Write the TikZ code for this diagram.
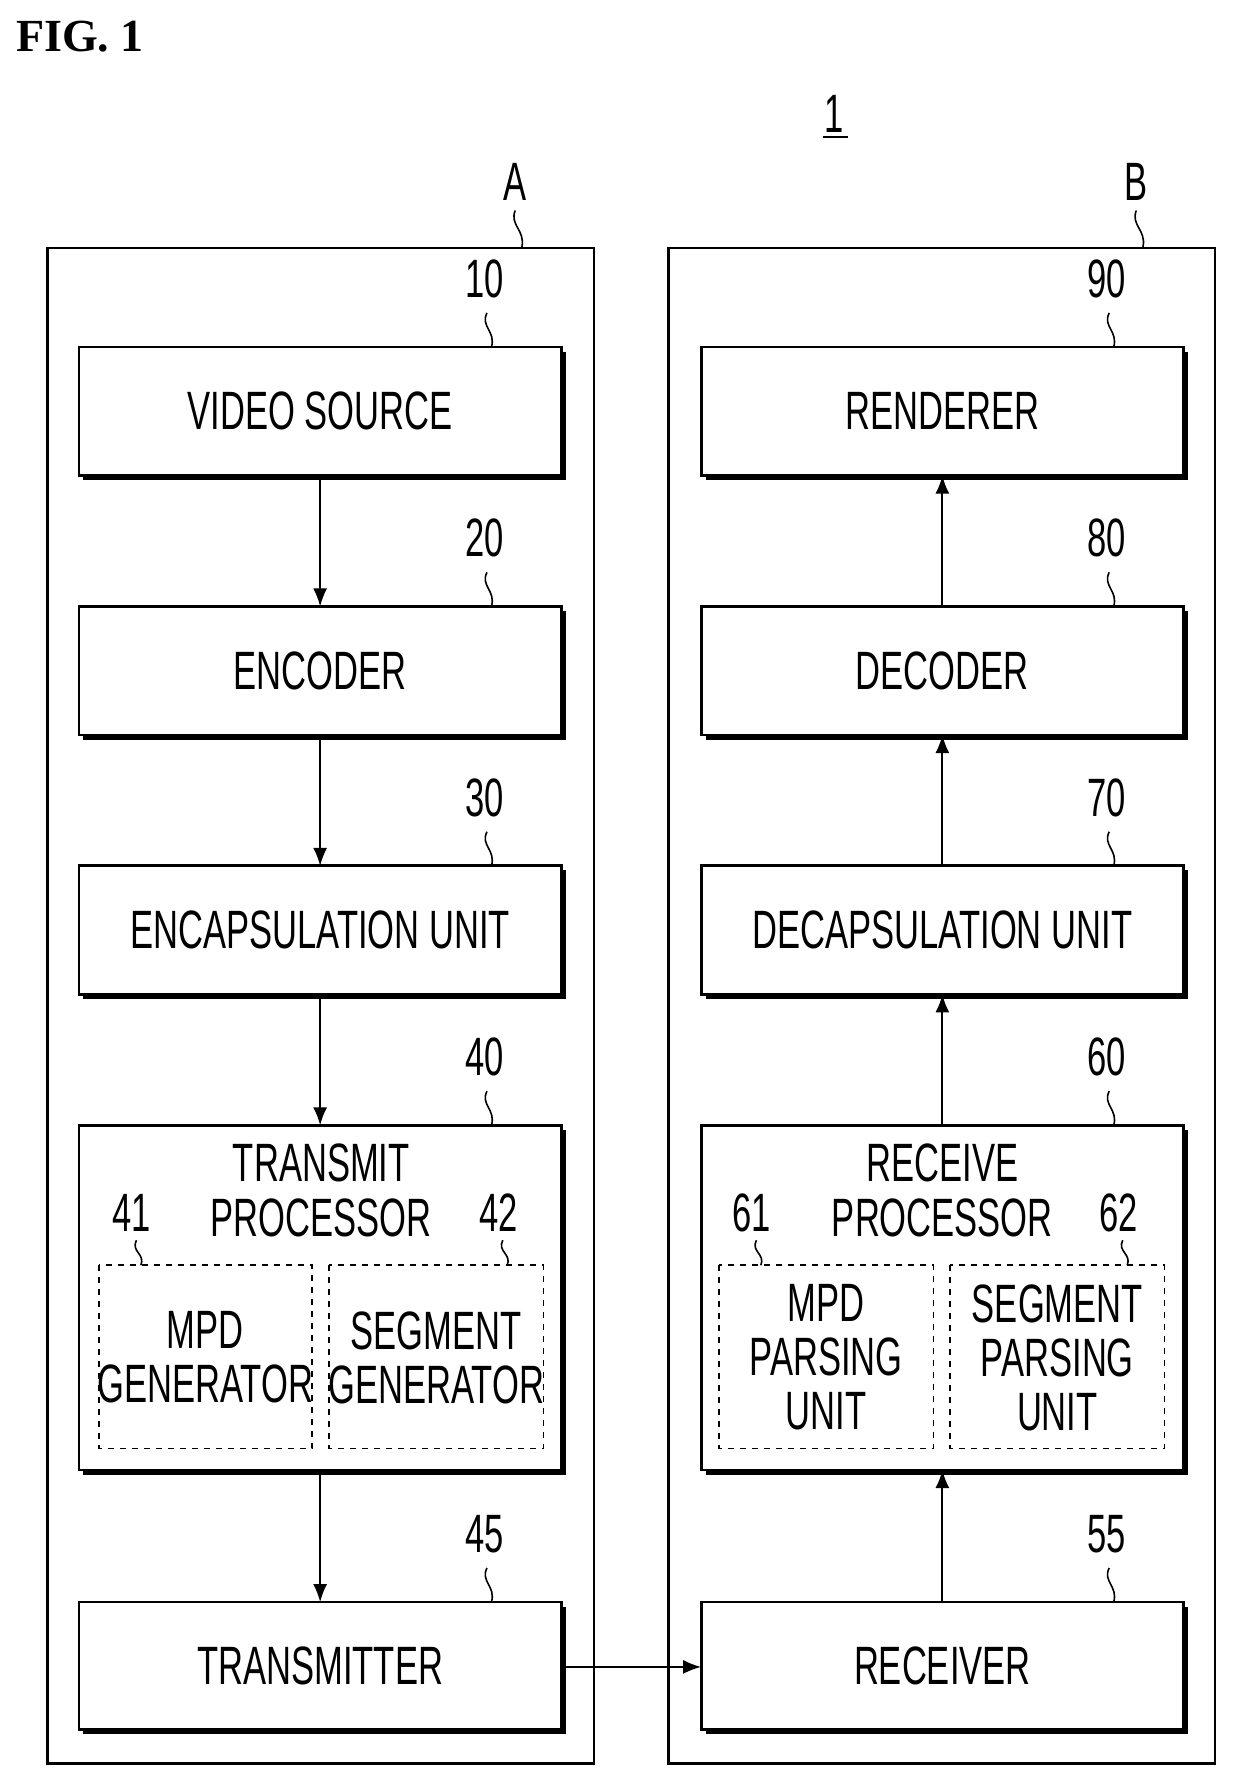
\documentclass[tikz,border=0pt]{standalone}
\usepackage{fontspec}
\usetikzlibrary{arrows.meta}
\setmainfont{Liberation Sans}[FakeStretch=0.64]
\newfontfamily\figfont{Liberation Serif}
\begin{document}
\begin{tikzpicture}[x=0.5636pt,y=-0.5689pt,
  lbl/.style={font=\fontsize{27}{27}\selectfont},
  num/.style={font=\fontsize{27}{27}\selectfont},
  dbox/.style={draw,dashed,line width=0.8pt,inner sep=0pt},
  arr/.style={-{Latex[length=9pt,width=7pt]},line width=0.9pt},
  sq/.style={line width=0.8pt}]
\useasboundingbox (0,0) rectangle (1100,1560);
\node[anchor=west,font=\figfont\bfseries\fontsize{23}{28}\selectfont] (fig) at (8,32) {FIG. 1};
\node[num] (one) at (740,100) {1};
\draw[line width=1pt] (730,120) -- (752,120);
% outer boxes
\draw[line width=1.2pt] (42,218) rectangle (527,1550);
\draw[line width=1.2pt] (593,218) rectangle (1078,1550);
\node[num] (A) at (457,160) {A};
\node[num] (B) at (1008,160) {B};
\draw[sq] (457,185) .. controls (452,198) and (466,202) .. (463,217);
\draw[sq] (1008,185) .. controls (1003,198) and (1017,202) .. (1014,217);
% blocks
\newcommand{\blkat}[6]{%
  \fill (#1+4,#2+4) rectangle (#3+4,#4+4);
  \draw[line width=1.4pt,fill=white] (#1,#2) rectangle (#3,#4);
  \coordinate (#5) at ({(#1+#3)/2},{(#2+#4)/2});
  \coordinate (#5t) at ({(#1+#3)/2},#2);
  \coordinate (#5b) at ({(#1+#3)/2},#4);
  \node[num] at (#1+360,#2-60) {#6};
  \draw[sq] (#1+362,#2-30) .. controls (#1+356,#2-18) and (#1+370,#2-14) .. (#1+366,#2);
}
\blkat{70}{305}{498}{418}{vs}{10}
\blkat{70}{533}{498}{646}{enc}{20}
\blkat{70}{761}{498}{874}{encap}{30}
\blkat{70}{989}{498}{1292}{tp}{40}
\blkat{70}{1408}{498}{1520}{tx}{45}
\blkat{622}{305}{1050}{418}{ren}{90}
\blkat{622}{533}{1050}{646}{dec}{80}
\blkat{622}{761}{1050}{874}{decap}{70}
\blkat{622}{989}{1050}{1292}{rp}{60}
\blkat{622}{1408}{1050}{1520}{rx}{55}
\node[lbl] (t1) at (vs) {VIDEO SOURCE};
\node[lbl] (t2) at (enc) {ENCODER};
\node[lbl] (t3) at (encap) {ENCAPSULATION UNIT};
\node[lbl] (t4) at (285,1022) {TRANSMIT};
\node[lbl] (t4b) at (285,1070) {PROCESSOR};
\node[lbl] (t5) at (tx) {TRANSMITTER};
\node[lbl] (t6) at (ren) {RENDERER};
\node[lbl] (t7) at (dec) {DECODER};
\node[lbl] (t8) at (decap) {DECAPSULATION UNIT};
\node[lbl] (t9) at (836,1022) {RECEIVE};
\node[lbl] (t9b) at (836,1070) {PROCESSOR};
\node[lbl] (t10) at (rx) {RECEIVER};
% dashed sub boxes
\draw[dbox] (88,1112) rectangle (277,1273);
\draw[dbox] (292,1112) rectangle (482,1273);
\draw[dbox] (638,1112) rectangle (828,1273);
\draw[dbox] (843,1112) rectangle (1033,1273);
\node[lbl,align=center] (mg) at (182,1193) {MPD\\GENERATOR};
\node[lbl,align=center] (sg) at (387,1193) {SEGMENT\\GENERATOR};
\node[lbl,align=center] (mp) at (733,1193) {MPD\\PARSING\\UNIT};
\node[lbl,align=center] (sp) at (938,1193) {SEGMENT\\PARSING\\UNIT};
\node[num] (n41) at (117,1066) {41};
\node[num] (n42) at (442,1066) {42};
\node[num] (n61) at (667,1066) {61};
\node[num] (n62) at (992,1066) {62};
\foreach \x in {121,446,671,996}
  \draw[sq] (\x,1090) .. controls (\x-5,1100) and (\x+8,1102) .. (\x+4,1112);
% arrows
\draw[arr] (vsb) -- (enct);
\draw[arr] (encb) -- (encapt);
\draw[arr] (encapb) -- (tpt);
\draw[arr] (tpb) -- (txt);
\draw[arr] (rxt) -- (rpb);
\draw[arr] (rpt) -- (decapb);
\draw[arr] (decapt) -- (decb);
\draw[arr] (dect) -- (renb);
\draw[arr] (502,1465) -- (622,1465);
\end{tikzpicture}
\end{document}
